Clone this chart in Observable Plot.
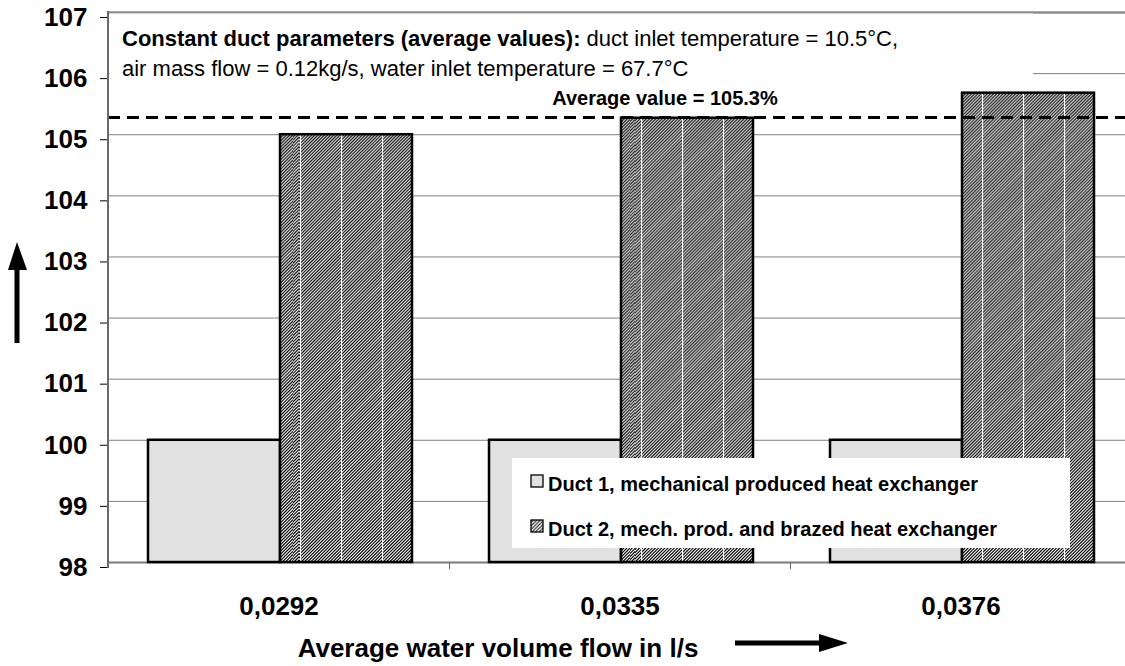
<!DOCTYPE html>
<html><head><meta charset="utf-8">
<script src="https://cdn.jsdelivr.net/npm/d3@7"></script>
<script src="https://cdn.jsdelivr.net/npm/@observablehq/plot@0.6"></script>
<style>html,body{margin:0;padding:0;background:#fff;overflow:hidden}</style>
</head><body><div id="chart"></div>
<script>
// ---- data ----
const categories = ["0,0292", "0,0335", "0,0376"];
const duct1Values = [100, 100, 100];
const duct2Values = [105.0, 105.27, 105.68];
const averageValue = 105.28;
const yTicks = [98, 99, 100, 101, 102, 103, 104, 105, 106, 107];
const seriesNames = ["Duct 1, mechanical produced heat exchanger", "Duct 2, mech. prod. and brazed heat exchanger"];
const averageLabel = "Average value = 105.3%";
const noteBold = "Constant duct parameters (average values):";
const noteLine1 = " duct inlet temperature = 10.5°C,";
const noteLine2 = "air mass flow = 0.12kg/s, water inlet temperature = 67.7°C";
const xTitle = "Average water volume flow in l/s";

const duct1 = categories.map((c, i) => ({category: c, value: duct1Values[i]}));
const duct2 = categories.map((c, i) => ({category: c, value: duct2Values[i]}));

const FONT = "Arial, 'Liberation Sans', Helvetica, sans-serif";
const GRAYFILL = "#e1e1e1";

// ---- pattern definitions ----
function defs() {
  const g = d3.create("svg:g");
  const d = g.append("defs");
  const tileW = 41, H = 620, p = tileW / 13;
  const pat = d.append("pattern").attr("id", "hatch")
    .attr("patternUnits", "objectBoundingBox")
    .attr("x", 20 / 132).attr("y", 0).attr("width", tileW / 132).attr("height", 1);
  pat.append("rect").attr("width", tileW).attr("height", H).attr("fill", "white");
  let path = "";
  for (let c = 0; c <= tileW + H + p; c += p) path += `M${c},0L${c - H},${H}`;
  pat.append("path").attr("d", path).attr("stroke", "black").attr("stroke-width", 1.15).attr("fill", "none");
  pat.append("rect").attr("x", 0).attr("y", 0).attr("width", 1.1).attr("height", H).attr("fill", "white");
  const ps = d.append("pattern").attr("id", "hatchSmall").attr("patternUnits", "userSpaceOnUse")
    .attr("width", 3.5).attr("height", 3.5);
  ps.append("rect").attr("width", 3.5).attr("height", 3.5).attr("fill", "white");
  ps.append("path").attr("d", "M-1,1l2,-2M0,3.5l3.5,-3.5M2.5,4.5l2,-2").attr("stroke", "black").attr("stroke-width", 1);
  return g.node();
}

function annotation(index, {x, y}) {
  const g = d3.create("svg:g").attr("text-anchor", "start");
  const x0 = x(categories[0]);
  g.append("rect").attr("x", x0 + 1.5).attr("y", y(107) + 1.5)
    .attr("width", 1033 - x0 - 1.5).attr("height", 82 - y(107) - 1.5).attr("fill", "white");
  const t = g.append("text").attr("font-size", 22).attr("x", 122).attr("y", 46).attr("fill", "black");
  t.append("tspan").attr("font-weight", "bold").text(noteBold);
  t.append("tspan").text(noteLine1);
  g.append("text").attr("font-size", 22).attr("x", 122).attr("y", 76).attr("fill", "black").text(noteLine2);
  return g.node();
}

function legend() {
  const g = d3.create("svg:g").attr("text-anchor", "start");
  g.append("rect").attr("x", 512).attr("y", 458).attr("width", 558).attr("height", 90).attr("fill", "white");
  const fills = [GRAYFILL, "url(#hatchSmall)"];
  seriesNames.forEach((name, i) => {
    const yy = 475 + i * 45;
    g.append("rect").attr("x", 531).attr("y", yy).attr("width", 12).attr("height", 12)
      .attr("fill", fills[i]).attr("stroke", "black").attr("stroke-width", 1.3);
    g.append("text").attr("x", 548).attr("y", yy + 16).attr("font-size", 20).attr("font-weight", "bold")
      .attr("fill", "black").text(name);
  });
  return g.node();
}

function frameLines(index, {x, y}) {
  const g = d3.create("svg:g");
  const x0 = x(categories[0]);
  g.append("line").attr("x1", x0).attr("x2", x0).attr("y1", y(107) - 1).attr("y2", y(98) + 6)
    .attr("stroke", "#6a6a6a").attr("stroke-width", 2);
  categories.slice(1).forEach(c => {
    const xx = Math.round(x(c)) + 0.5;
    g.append("line").attr("x1", xx).attr("x2", xx).attr("y1", y(98)).attr("y2", y(98) + 7)
      .attr("stroke", "#666").attr("stroke-width", 1);
  });
  return g.node();
}

function titleAndArrows(index, scales, values, dims) {
  const g = d3.create("svg:g");
  g.append("text").attr("x", 498).attr("y", 657).attr("text-anchor", "middle")
    .attr("font-size", 26).attr("font-weight", "bold").attr("fill", "black").text(xTitle);
  // x arrow
  g.append("path").attr("d", "M735,640.5H819V634L848,643L819,652V645.5H735Z").attr("fill", "black");
  // y arrow
  g.append("path").attr("d", "M14.5,343V270H8L17,242L27,270H19.5V343Z").attr("fill", "black");
  return g.node();
}

const chart = Plot.plot({
  width: 1125,
  height: 666,
  marginLeft: 108,
  marginRight: -6,
  marginTop: 12,
  marginBottom: 104,
  style: {fontFamily: FONT, background: "white", color: "black"},
  x: {domain: categories, padding: 0, label: null},
  y: {domain: [98, 107], label: null},
  marks: [
    defs,
    Plot.ruleY(yTicks.filter(t => t > 98 && t < 107), {stroke: "#808080", strokeWidth: 1}),
    Plot.ruleY([98], {stroke: "#7a7a7a", strokeWidth: 2}),
    Plot.ruleY([107], {stroke: "#8c8c8c", strokeWidth: 2.5}),
    annotation,
    Plot.barY(duct1, {x: "category", y1: 98, y2: "value", fill: GRAYFILL, stroke: "black", strokeWidth: 2.5, insetLeft: 40, insetRight: 169}),
    Plot.barY(duct2, {x: "category", y1: 98, y2: "value", fill: "url(#hatch)", stroke: "black", strokeWidth: 2.5, insetLeft: 172, insetRight: 37}),
    Plot.ruleY([averageValue], {stroke: "black", strokeWidth: 3, strokeDasharray: "12,7"}),
    Plot.text([averageValue], {y: d => d, text: () => averageLabel, fontSize: 20, fontWeight: "bold", dx: 45, dy: -19, fill: "black"}),
    legend,
    Plot.axisY({ticks: yTicks, tickSize: 8, tickPadding: 13, dy: 5, fontSize: 26, fontWeight: "bold", label: null, tickFormat: d => String(d)}),
    Plot.axisX({tickSize: 0, tickPadding: 34, fontSize: 26, fontWeight: "bold", label: null}),
    frameLines,
    titleAndArrows
  ]
});
document.getElementById("chart").appendChild(chart);
</script>
</body></html>
